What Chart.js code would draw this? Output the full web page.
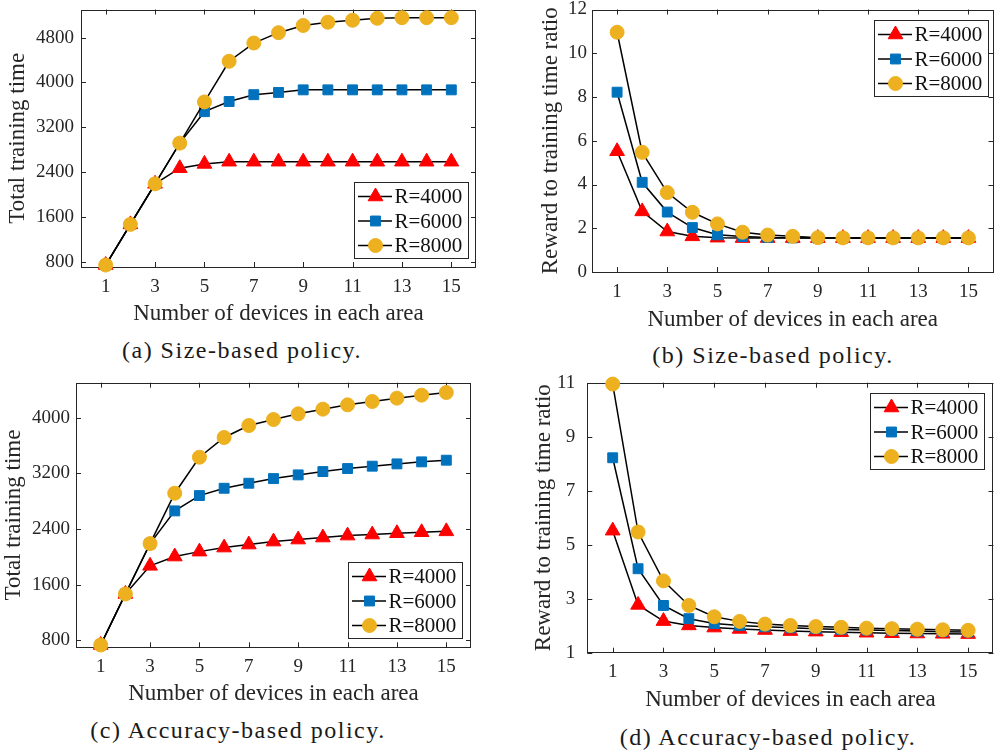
<!DOCTYPE html>
<html>
<head>
<meta charset="utf-8">
<script src="https://cdn.jsdelivr.net/npm/chart.js@4.4.0/dist/chart.umd.min.js"></script>
<style>
    html, body { margin: 0; padding: 0; background: #ffffff; }
    body { width: 1003px; height: 754px; position: relative; overflow: hidden; font-family: 'Liberation Serif', 'Times New Roman', serif; }
    .panel { position: absolute; }
    .caption { position: absolute; transform: translate(-50%, -50%); font-size: 24px; letter-spacing: 1.5px; white-space: nowrap; color: #1a1a1a; }
</style>
</head>
<body>
<div class="panel" style="left:0px;top:0px;width:490px;height:330px"><canvas id="chartA"></canvas></div>
<div class="panel" style="left:500px;top:0px;width:503px;height:335px"><canvas id="chartB"></canvas></div>
<div class="panel" style="left:0px;top:370px;width:490px;height:340px"><canvas id="chartC"></canvas></div>
<div class="panel" style="left:500px;top:370px;width:503px;height:345px"><canvas id="chartD"></canvas></div>
<div class="caption" style="left:242px;top:350px">(a) Size-based policy.</div>
<div class="caption" style="left:773px;top:355px">(b) Size-based policy.</div>
<div class="caption" style="left:238px;top:730px">(c) Accuracy-based policy.</div>
<div class="caption" style="left:768px;top:737px">(d) Accuracy-based policy.</div>
<script>
// data
const devices = [1, 2, 3, 4, 5, 6, 7, 8, 9, 10, 11, 12, 13, 14, 15];
const seriesLabels = ['R=4000', 'R=6000', 'R=8000'];

// (a) size-based, total training time
const sizeTime4000 = [743, 1468, 2191, 2470, 2546, 2586, 2586, 2586, 2586, 2586, 2586, 2586, 2586, 2586, 2586];
const sizeTime6000 = [743, 1468, 2191, 2917, 3478, 3659, 3781, 3821, 3867, 3867, 3867, 3867, 3867, 3867, 3867];
const sizeTime8000 = [743, 1468, 2191, 2917, 3652, 4377, 4702, 4887, 5015, 5073, 5108, 5143, 5154, 5154, 5154];

// (b) size-based, reward to training time ratio
const sizeRatio4000 = [5.52, 2.77, 1.85, 1.63, 1.57, 1.55, 1.55, 1.55, 1.55, 1.55, 1.55, 1.55, 1.55, 1.55, 1.55];
const sizeRatio6000 = [8.22, 4.10, 2.74, 2.03, 1.70, 1.62, 1.58, 1.56, 1.55, 1.55, 1.55, 1.55, 1.55, 1.55, 1.55];
const sizeRatio8000 = [10.96, 5.47, 3.63, 2.73, 2.20, 1.82, 1.69, 1.63, 1.57, 1.56, 1.56, 1.56, 1.56, 1.56, 1.56];

// (c) accuracy-based, total training time
const accTime4000 = [733, 1466, 1870, 2003, 2074, 2132, 2175, 2218, 2247, 2276, 2304, 2319, 2338, 2352, 2365];
const accTime6000 = [733, 1466, 2189, 2659, 2879, 2984, 3056, 3123, 3176, 3224, 3267, 3301, 3334, 3363, 3387];
const accTime8000 = [733, 1466, 2189, 2913, 3430, 3713, 3885, 3971, 4053, 4120, 4182, 4230, 4278, 4321, 4359];

// (d) accuracy-based, reward to training time ratio
const accRatio4000 = [5.52, 2.77, 2.17, 2.01, 1.93, 1.88, 1.84, 1.80, 1.78, 1.76, 1.74, 1.72, 1.71, 1.70, 1.69];
const accRatio6000 = [8.22, 4.11, 2.75, 2.26, 2.08, 2.01, 1.96, 1.92, 1.89, 1.86, 1.84, 1.82, 1.80, 1.78, 1.77];
const accRatio8000 = [10.95, 5.47, 3.66, 2.75, 2.33, 2.16, 2.06, 2.01, 1.97, 1.94, 1.91, 1.89, 1.87, 1.85, 1.83];

// tick labels
const xTicks = [1, 3, 5, 7, 9, 11, 13, 15];
const timeTicks = [800, 1600, 2400, 3200, 4000, 4800];
const ratioTicksB = [0, 2, 4, 6, 8, 10, 12];
const ratioTicksD = [1, 3, 5, 7, 9, 11];

const AXIS_COLOR = '#262626';
const FONT = "'Liberation Serif', 'Times New Roman', serif";

const seriesStyle = [
    { color: '#FF0000', pointStyle: 'triangle', radius: 8.5 },
    { color: '#0072BD', pointStyle: 'rect', radius: 7 },
    { color: '#EDB120', pointStyle: 'circle', radius: 7 }
];

// box round the plot with inward ticks on all four sides (matlab look)
const axesBox = {
    id: 'axesBox',
    beforeDatasetsDraw(chart) {
        const { ctx, chartArea: a, scales } = chart;
        const len = 5;
        ctx.save();
        ctx.strokeStyle = AXIS_COLOR;
        ctx.lineWidth = 1;
        ctx.strokeRect(Math.round(a.left) + 0.5, Math.round(a.top) + 0.5, Math.round(a.width) - 1, Math.round(a.height) - 1);
        ctx.beginPath();
        scales.x.ticks.forEach(t => {
            const px = Math.round(scales.x.getPixelForValue(t.value)) + 0.5;
            ctx.moveTo(px, a.bottom); ctx.lineTo(px, a.bottom - len);
            ctx.moveTo(px, a.top); ctx.lineTo(px, a.top + len);
        });
        scales.y.ticks.forEach(t => {
            const py = Math.round(scales.y.getPixelForValue(t.value)) + 0.5;
            ctx.moveTo(a.left, py); ctx.lineTo(a.left + len, py);
            ctx.moveTo(a.right, py); ctx.lineTo(a.right - len, py);
        });
        ctx.stroke();
        ctx.restore();
    }
};

// legend drawn as a framed box with line + marker samples
const legendBox = {
    id: 'legendBox',
    afterDatasetsDraw(chart, args, opts) {
        const { ctx, chartArea: a } = chart;
        const w = 114, h = 76;
        const x0 = Math.round(a.right - opts.right - w);
        const y0 = Math.round(opts.top != null ? a.top + opts.top : a.bottom - opts.bottom - h);
        ctx.save();
        ctx.fillStyle = '#ffffff';
        ctx.fillRect(x0, y0, w, h);
        ctx.strokeStyle = AXIS_COLOR;
        ctx.lineWidth = 1;
        ctx.strokeRect(x0 + 0.5, y0 + 0.5, w, h);
        ctx.font = '21px ' + FONT;
        ctx.textBaseline = 'middle';
        ctx.textAlign = 'left';
        chart.data.datasets.forEach((ds, i) => {
            const cy = y0 + 14.5 + i * 24.5;
            ctx.strokeStyle = '#000000';
            ctx.lineWidth = 1.5;
            ctx.beginPath();
            ctx.moveTo(x0 + 4, cy);
            ctx.lineTo(x0 + 38, cy);
            ctx.stroke();
            ctx.fillStyle = ds.pointBackgroundColor;
            ctx.strokeStyle = ds.pointBorderColor;
            ctx.lineWidth = 1;
            Chart.helpers.drawPoint(ctx, { pointStyle: ds.pointStyle, radius: ds.pointRadius, rotation: 0, borderWidth: 1 }, x0 + 21.5, cy);
            ctx.fillStyle = '#111111';
            ctx.fillText(ds.label, x0 + 40.5, cy + 1);
        });
        ctx.restore();
    }
};

function makeDatasets(seriesList) {
    return seriesList.map((values, i) => ({
        label: seriesLabels[i],
        data: devices.map((d, k) => ({ x: d, y: values[k] })),
        borderColor: '#000000',
        borderWidth: 1.5,
        tension: 0,
        pointStyle: seriesStyle[i].pointStyle,
        pointRadius: seriesStyle[i].radius,
        pointBackgroundColor: seriesStyle[i].color,
        pointBorderColor: seriesStyle[i].color,
        pointBorderWidth: 1,
        clip: false,
        order: 2 - i
    }));
}

function makeChart(id, seriesList, yTicks, yMin, yMax, yTitle, lay) {
    const ctx = document.getElementById(id).getContext('2d');
    return new Chart(ctx, {
        type: 'line',
        data: { datasets: makeDatasets(seriesList) },
        options: {
            responsive: true,
            maintainAspectRatio: false,
            animation: false,
            devicePixelRatio: 1,
            layout: { padding: { top: lay.padTop, right: lay.padRight, left: 0, bottom: 0 } },
            plugins: {
                legend: { display: false },
                tooltip: { enabled: false },
                legendBox: lay.legend
            },
            scales: {
                x: {
                    type: 'linear',
                    min: 0,
                    max: 16,
                    grid: { display: false, drawTicks: false },
                    border: { display: false },
                    afterBuildTicks: s => { s.ticks = xTicks.map(v => ({ value: v })); },
                    afterFit: s => { s.height = lay.xHeight; s.paddingLeft = 0; s.paddingRight = 0; },
                    ticks: {
                        padding: lay.xTickPad,
                        color: AXIS_COLOR,
                        maxRotation: 0,
                        font: { family: FONT, size: 19 },
                        callback: v => String(v)
                    },
                    title: {
                        display: true,
                        text: 'Number of devices in each area',
                        color: AXIS_COLOR,
                        padding: { top: 0, bottom: lay.xTitlePad },
                        font: { family: FONT, size: 23 }
                    }
                },
                y: {
                    type: 'linear',
                    min: yMin,
                    max: yMax,
                    grid: { display: false, drawTicks: false },
                    border: { display: false },
                    afterBuildTicks: s => { s.ticks = yTicks.map(v => ({ value: v })); },
                    afterFit: s => { s.width = lay.yWidth; s.paddingTop = 0; s.paddingBottom = 0; },
                    ticks: {
                        padding: lay.yTickPad,
                        color: AXIS_COLOR,
                        font: { family: FONT, size: 19 },
                        callback: v => String(v)
                    },
                    title: {
                        display: true,
                        text: yTitle,
                        color: AXIS_COLOR,
                        padding: { top: lay.yTitlePad, bottom: 0 },
                        font: { family: FONT, size: 23 }
                    }
                }
            }
        },
        plugins: [axesBox, legendBox]
    });
}

document.addEventListener('DOMContentLoaded', function() {
    makeChart('chartA', [sizeTime4000, sizeTime6000, sizeTime8000], timeTicks, 708, 5300, 'Total training time', {
        padTop: 3, padRight: 14, yWidth: 81, xHeight: 63,
        yTickPad: 7, xTickPad: 8.3, yTitlePad: 4.2, xTitlePad: 1.9,
        legend: { right: 8.3, bottom: 8.7 }
    });
    makeChart('chartB', [sizeRatio4000, sizeRatio6000, sizeRatio8000], ratioTicksB, 0, 12, 'Reward to training time ratio', {
        padTop: 3, padRight: 0.5, yWidth: 92, xHeight: 63,
        yTickPad: 5, xTickPad: 9, yTitlePad: 36.7, xTitlePad: 1.2,
        legend: { right: 6, top: 10 }
    });
    makeChart('chartC', [accTime4000, accTime6000, accTime8000], timeTicks, 700, 4500, 'Total training time', {
        padTop: 12.7, padRight: 19, yWidth: 76, xHeight: 62.7,
        yTickPad: 6, xTickPad: 8, yTitlePad: 0, xTitlePad: 2.2,
        legend: { right: 9, bottom: 9.3 }
    });
    makeChart('chartD', [accRatio4000, accRatio6000, accRatio8000], ratioTicksD, 1, 11, 'Reward to training time ratio', {
        padTop: 12.7, padRight: 1.3, yWidth: 87.3, xHeight: 62.3,
        yTickPad: 12, xTickPad: 7.6, yTitlePad: 30, xTitlePad: 1.2,
        legend: { right: 10, top: 10 }
    });
});
</script>
</body>
</html>
